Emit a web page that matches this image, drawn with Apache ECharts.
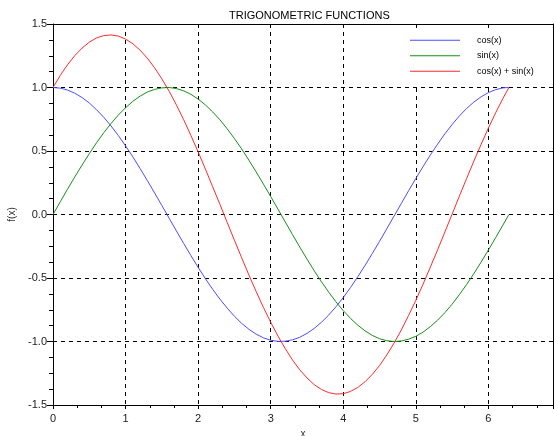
<!DOCTYPE html>
<html>
<head>
<meta charset="utf-8">
<script src="https://cdn.jsdelivr.net/npm/echarts@6/dist/echarts.min.js"></script>
<style>
  html, body { margin: 0; padding: 0; background: #fff; }
  #main { width: 554px; height: 436px; }
</style>
</head>
<body>
<div id="main"></div>
<script>
// x 取样点
var xs = [0.0, 0.1, 0.2, 0.3, 0.4, 0.5, 0.6, 0.7, 0.8, 0.9, 1.0, 1.1, 1.2, 1.3, 1.4, 1.5,
  1.6, 1.7, 1.8, 1.9, 2.0, 2.1, 2.2, 2.3, 2.4, 2.5, 2.6, 2.7, 2.8, 2.9, 3.0, 3.1,
  3.2, 3.3, 3.4, 3.5, 3.6, 3.7, 3.8, 3.9, 4.0, 4.1, 4.2, 4.3, 4.4, 4.5, 4.6, 4.7,
  4.8, 4.9, 5.0, 5.1, 5.2, 5.3, 5.4, 5.5, 5.6, 5.7, 5.8, 5.9, 6.0, 6.1, 6.2, 6.28]
// cos(x)
var cosVals = [1.000, 0.995, 0.980, 0.955, 0.921, 0.878, 0.825, 0.765, 0.697, 0.622, 0.540,
  0.454, 0.362, 0.267, 0.170, 0.071, -0.029, -0.129, -0.227, -0.323, -0.416, -0.505,
  -0.589, -0.666, -0.737, -0.801, -0.857, -0.904, -0.942, -0.971, -0.990, -0.999,
  -0.998, -0.987, -0.967, -0.936, -0.897, -0.848, -0.791, -0.726, -0.654, -0.575,
  -0.490, -0.401, -0.307, -0.211, -0.112, -0.012, 0.087, 0.187, 0.284, 0.378, 0.469,
  0.554, 0.635, 0.709, 0.776, 0.835, 0.886, 0.927, 0.960, 0.983, 0.997, 1.000]
// sin(x)
var sinVals = [0.000, 0.100, 0.199, 0.296, 0.389, 0.479, 0.565, 0.644, 0.717, 0.783, 0.841,
  0.891, 0.932, 0.964, 0.985, 0.997, 1.000, 0.992, 0.974, 0.946, 0.909, 0.863, 0.808,
  0.746, 0.675, 0.598, 0.516, 0.427, 0.335, 0.239, 0.141, 0.042, -0.058, -0.158,
  -0.256, -0.351, -0.443, -0.530, -0.612, -0.688, -0.757, -0.818, -0.872, -0.916,
  -0.952, -0.978, -0.994, -1.000, -0.996, -0.982, -0.959, -0.926, -0.883, -0.832,
  -0.773, -0.706, -0.631, -0.551, -0.465, -0.374, -0.279, -0.182, -0.083, -0.003]
// cos(x) + sin(x)
var sumVals = [1.000, 1.095, 1.179, 1.251, 1.310, 1.357, 1.390, 1.409, 1.414, 1.405, 1.381,
  1.345, 1.294, 1.231, 1.155, 1.068, 0.971, 0.863, 0.747, 0.623, 0.493, 0.358, 0.219,
  0.080, -0.062, -0.203, -0.341, -0.477, -0.607, -0.732, -0.849, -0.957, -1.056,
  -1.145, -1.223, -1.287, -1.340, -1.378, -1.403, -1.414, -1.411, -1.393, -1.362,
  -1.317, -1.259, -1.189, -1.106, -1.012, -0.909, -0.795, -0.675, -0.548, -0.414,
  -0.278, -0.138, 0.003, 0.145, 0.284, 0.421, 0.553, 0.681, 0.801, 0.914, 0.997]

var seriesNames = ['cos(x)', 'sin(x)', 'cos(x) + sin(x)']
var seriesColors = ['#4d4dff', '#168f16', '#ff2a2a']

function pairs(vals) {
  return xs.map(function (x, i) { return [x, vals[i]] })
}

var font = 'Liberation Sans, Arial, sans-serif'
var myChart = echarts.init(document.getElementById('main'))

var baseX = {
  type: 'value', min: 0, max: 6.89, interval: 1,
  axisLine: { show: true, onZero: false, lineStyle: { color: '#000', width: 1 } }
}
var baseY = {
  type: 'value', min: -1.5, max: 1.5, interval: 0.5,
  axisLine: { show: true, onZero: false, lineStyle: { color: '#000', width: 1 } }
}

var options = {
  animation: false,
  backgroundColor: '#fff',
  title: {
    text: 'TRIGONOMETRIC FUNCTIONS',
    left: 224, top: 5,
    textStyle: { fontFamily: font, fontSize: 11, fontWeight: 'normal', color: '#000' }
  },
  // 图例下面的白色底板，盖住网格线
  graphic: [{
    type: 'rect', z: 1, silent: true,
    shape: { x: 380, y: 28, width: 172, height: 57 },
    style: { fill: '#fff' }
  }],
  legend: {
    orient: 'vertical', left: 405, top: 30,
    itemWidth: 50, itemHeight: 1, itemGap: 5,
    icon: 'rect',
    data: seriesNames,
    textStyle: { fontFamily: font, fontSize: 9, color: '#000', padding: [0, 0, 0, 12], lineHeight: 10.5 }
  },
  grid: { left: 53, top: 24, width: 500, height: 381, outerBoundsMode: 'none', containLabel: false },
  xAxis: [
    Object.assign({}, baseX, {
      position: 'bottom',
      name: 'x', nameLocation: 'middle', nameGap: 21,
      nameTextStyle: { fontFamily: font, fontSize: 10, color: '#333' },
      axisTick: { show: true, inside: false, length: 4, lineStyle: { color: '#000' } },
      minorTick: { show: true, splitNumber: 3, length: 3, lineStyle: { color: '#000' } },
      axisLabel: {
        fontFamily: font, fontSize: 11, color: '#222', margin: 8,
        formatter: function (v) { return Number.isInteger(v) ? String(v) : '' }
      },
      splitLine: { show: true, lineStyle: { color: '#000', type: [4, 4], width: 1 } }
    }),
    Object.assign({}, baseX, {
      position: 'top',
      axisTick: { show: true, inside: true, length: 3, lineStyle: { color: '#000' } },
      minorTick: { show: false },
      axisLabel: { show: false },
      splitLine: { show: false }
    })
  ],
  yAxis: [
    Object.assign({}, baseY, {
      position: 'left',
      name: 'f(x)', nameLocation: 'middle', nameGap: 36, nameRotate: 90,
      nameTextStyle: { fontFamily: font, fontSize: 10, color: '#333' },
      axisTick: { show: true, inside: false, length: 6, lineStyle: { color: '#000' } },
      minorTick: { show: true, splitNumber: 4, length: 4, lineStyle: { color: '#000' } },
      axisLabel: {
        fontFamily: font, fontSize: 11, color: '#222', margin: 6,
        formatter: function (v) { return v.toFixed(1) }
      },
      splitLine: { show: true, lineStyle: { color: '#000', type: [4, 4], width: 1 } }
    }),
    Object.assign({}, baseY, {
      position: 'right',
      axisTick: { show: false },
      axisLabel: { show: false },
      splitLine: { show: false }
    })
  ],
  series: [cosVals, sinVals, sumVals].map(function (vals, i) {
    return {
      name: seriesNames[i],
      type: 'line',
      data: pairs(vals),
      symbol: 'none',
      smooth: false,
      clip: true,
      color: seriesColors[i],
      lineStyle: { color: seriesColors[i], width: 1 }
    }
  })
}

myChart.setOption(options)
</script>
</body>
</html>
